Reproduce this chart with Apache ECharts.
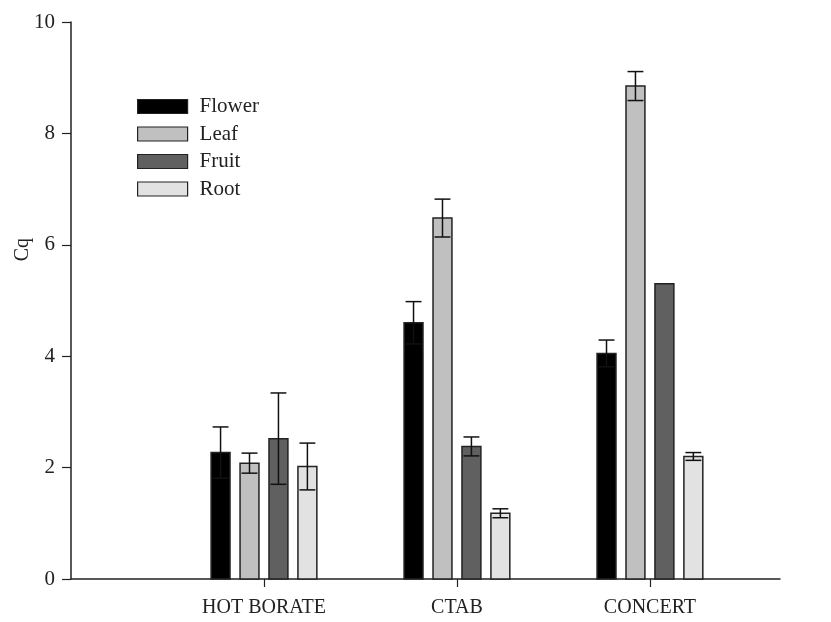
<!DOCTYPE html>
<html>
<head>
<meta charset="utf-8">
<script src="https://cdn.jsdelivr.net/npm/echarts@6/dist/echarts.min.js"></script>
<style>html,body{margin:0;padding:0;background:#fff;}#c{width:831px;height:622px;}</style>
</head>
<body>
<div id="c"></div>
<script>
const categories = ['HOT BORATE', 'CTAB', 'CONCERT'];
const seriesNames = ['Flower', 'Leaf', 'Fruit', 'Root'];
const flower = [2.27, 4.60, 4.05];
const flowerErr = [0.46, 0.38, 0.24];
const leaf = [2.08, 6.48, 8.85];
const leafErr = [0.18, 0.34, 0.26];
const fruit = [2.52, 2.38, 5.30];
const fruitErr = [0.82, 0.17, 0];
const root = [2.02, 1.18, 2.20];
const rootErr = [0.42, 0.08, 0.07];
const yTicks = [0, 2, 4, 6, 8, 10];

const values = [flower, leaf, fruit, root];
const errors = [flowerErr, leafErr, fruitErr, rootErr];
const colors = ['#000000', '#c0c0c0', '#606060', '#e2e2e2'];
const offsets = [-0.225, -0.075, 0.075, 0.225];
const barW = 0.098;
const FONT = "'Liberation Serif', 'DejaVu Serif', serif";

const chart = echarts.init(document.getElementById('c'), null, {renderer: 'canvas'});

const series = seriesNames.map((name, si) => ({
  name: name,
  type: 'custom',
  itemStyle: {color: colors[si], borderColor: '#222', borderWidth: 1.5},
  data: categories.map((c, ci) => [ci + 1, values[si][ci], errors[si][ci]]),
  renderItem: function (params, api) {
    const cx = api.value(0) + offsets[si];
    const v = api.value(1);
    const e = api.value(2);
    const top = api.coord([cx, v]);
    const base = api.coord([cx, 0]);
    const w = api.size([barW, 0])[0];
    const children = [{
      type: 'rect',
      shape: {x: top[0] - w / 2, y: top[1], width: w, height: base[1] - top[1]},
      style: {fill: colors[si], stroke: '#222', lineWidth: 1.5}
    }];
    if (e > 0) {
      const hi = api.coord([cx, v + e]);
      const lo = api.coord([cx, v - e]);
      const cap = w * 0.42;
      const st = {stroke: '#111', lineWidth: 1.5};
      children.push({type: 'line', shape: {x1: hi[0], y1: hi[1], x2: lo[0], y2: lo[1]}, style: st, z2: 10});
      children.push({type: 'line', shape: {x1: hi[0] - cap, y1: hi[1], x2: hi[0] + cap, y2: hi[1]}, style: st, z2: 10});
      children.push({type: 'line', shape: {x1: lo[0] - cap, y1: lo[1], x2: lo[0] + cap, y2: lo[1]}, style: st, z2: 10});
    }
    return {type: 'group', children: children};
  }
}));

chart.setOption({
  animation: false,
  backgroundColor: '#fff',
  grid: {left: 71, right: 51, top: 22, bottom: 43, containLabel: false},
  legend: {
    orient: 'vertical',
    left: 137,
    top: 96,
    padding: 0,
    itemWidth: 50,
    itemHeight: 14,
    itemGap: 6.5,
    icon: 'rect',
    data: seriesNames.map((n, i) => ({name: n, itemStyle: {color: colors[i], borderColor: '#222', borderWidth: 1.2}})),
    textStyle: {fontFamily: FONT, fontSize: 21, color: '#222', padding: [0, 0, 0, 7]}
  },
  xAxis: {
    type: 'value',
    min: 0,
    max: 3.674,
    splitLine: {show: false},
    axisLine: {show: true, onZero: false, lineStyle: {color: '#222', width: 1.5}},
    axisTick: {show: true, length: 8, customValues: [1, 2, 3], lineStyle: {color: '#222', width: 1.2}},
    axisLabel: {
      customValues: [1, 2, 3],
      margin: 19,
      fontFamily: FONT, fontSize: 20, color: '#222',
      formatter: v => categories[Math.round(v) - 1] || ''
    }
  },
  yAxis: {
    type: 'value',
    min: 0,
    max: 10,
    interval: 2,
    splitLine: {show: false},
    axisLine: {show: true, lineStyle: {color: '#222', width: 1.5}},
    axisTick: {show: true, length: 9, lineStyle: {color: '#222', width: 1.2}},
    axisLabel: {
      margin: 16,
      fontFamily: FONT, fontSize: 21, color: '#222',
      formatter: v => yTicks.indexOf(v) >= 0 ? String(v) : ''
    }
  },
  graphic: [{
    type: 'text',
    left: 13,
    top: 238,
    rotation: Math.PI / 2,
    style: {text: 'Cq', fontFamily: FONT, fontSize: 20, fill: '#222'}
  }],
  series: series
});
</script>
</body>
</html>
